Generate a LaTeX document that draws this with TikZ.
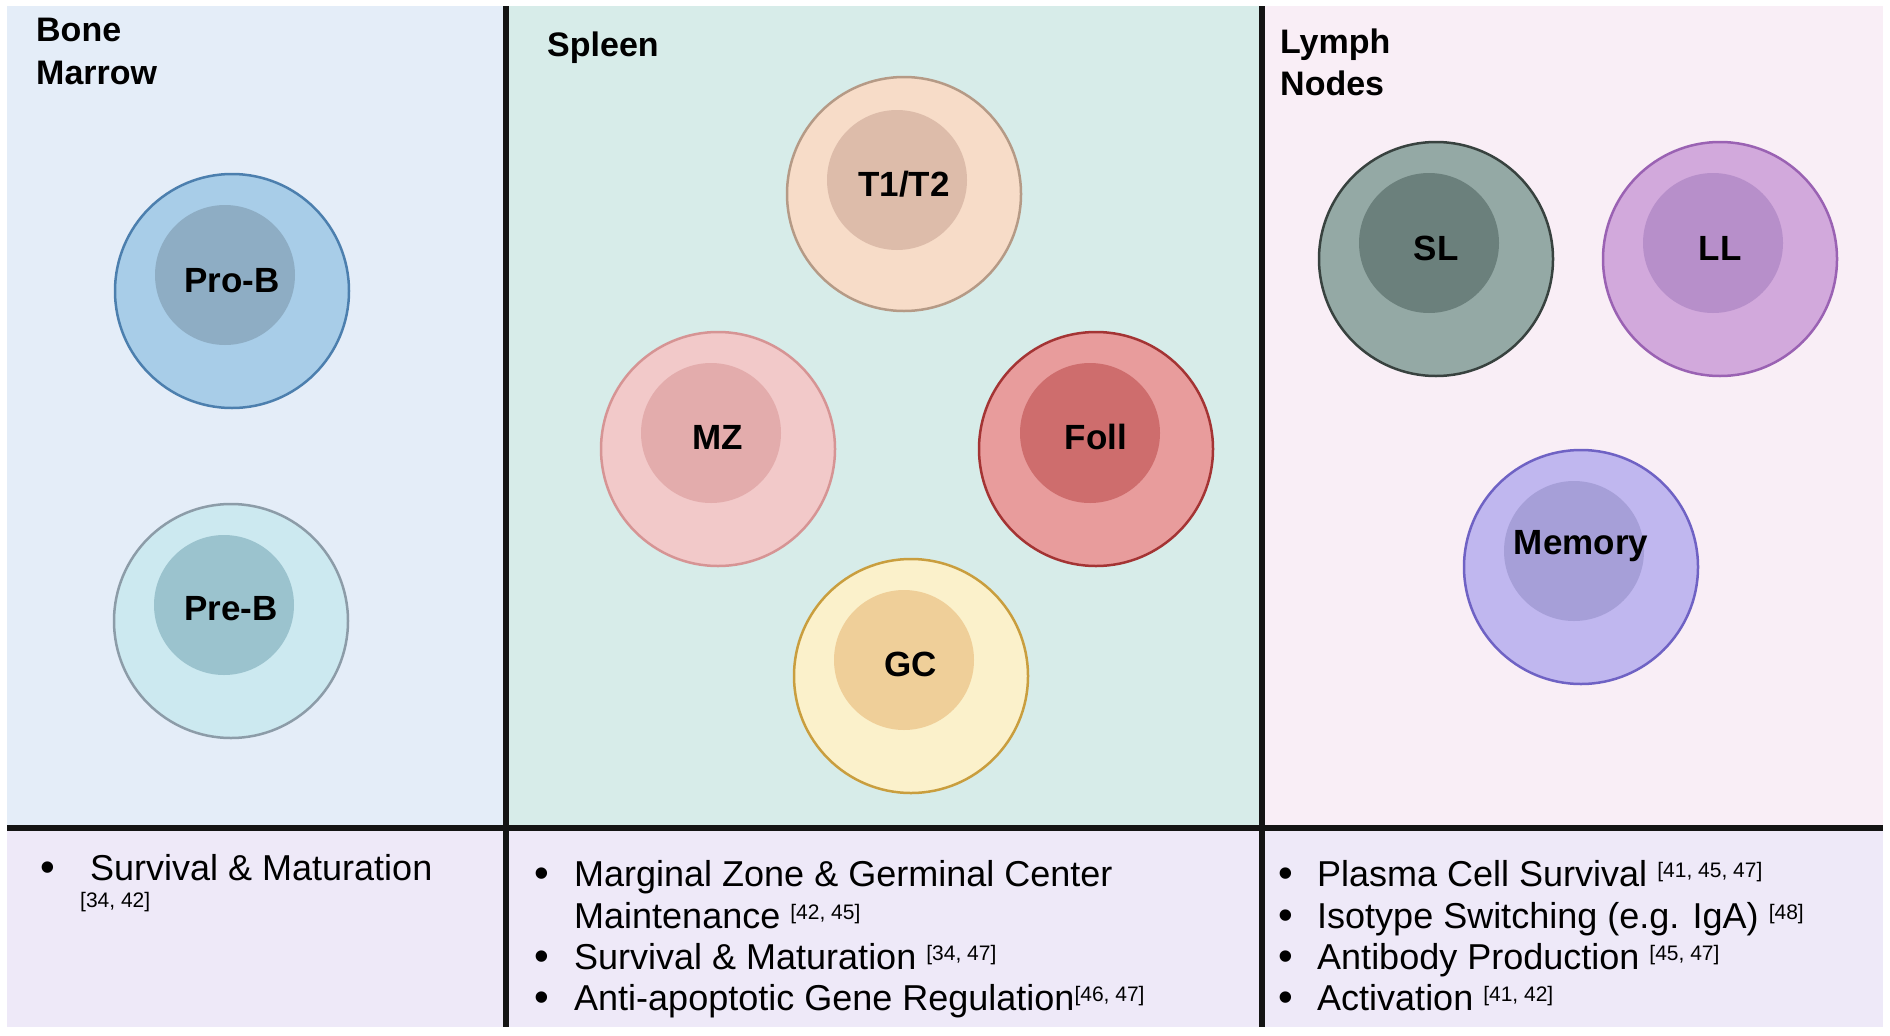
\documentclass[tikz,border=0pt]{standalone}
\usepackage{fontspec}
\setmainfont{Liberation Sans}
\definecolor{bgBM}{HTML}{E4EDF8}
\definecolor{bgSp}{HTML}{D7ECE9}
\definecolor{bgLN}{HTML}{F9EEF6}
\definecolor{bgBot}{HTML}{EEE9F8}
\definecolor{proO}{HTML}{A8CDE8}\definecolor{proD}{HTML}{4C7FAE}\definecolor{proI}{HTML}{8EADC4}
\definecolor{preO}{HTML}{CCE9F0}\definecolor{preD}{HTML}{8C9CA8}\definecolor{preI}{HTML}{9BC3CE}
\definecolor{ttO}{HTML}{F7DCC8}\definecolor{ttD}{HTML}{B59A86}\definecolor{ttI}{HTML}{DDBCAA}
\definecolor{mzO}{HTML}{F2C9C9}\definecolor{mzD}{HTML}{D69494}\definecolor{mzI}{HTML}{E3ACAC}
\definecolor{fdO}{HTML}{E89C9C}\definecolor{fdD}{HTML}{A43434}\definecolor{fdI}{HTML}{CE6D6D}
\definecolor{gcO}{HTML}{FBF1CB}\definecolor{gcD}{HTML}{C99E3E}\definecolor{gcI}{HTML}{EFCF99}
\definecolor{slO}{HTML}{94A9A5}\definecolor{slD}{HTML}{38423F}\definecolor{slI}{HTML}{6B807C}
\definecolor{llO}{HTML}{D2A9DC}\definecolor{llD}{HTML}{9A62B3}\definecolor{llI}{HTML}{B78FCA}
\definecolor{meO}{HTML}{C0B7EF}\definecolor{meD}{HTML}{6F62C4}\definecolor{meI}{HTML}{A69FD8}
\newcommand{\refcit}[1]{\raisebox{9pt}{\fontsize{21}{23}\selectfont[#1]}}
\begin{document}
\begin{tikzpicture}[x=1pt,y=-1pt,
  divider/.style={line width=6pt, draw=black!92},
  outercell/.style 2 args={circle, draw=#1, fill=#2, line width=2.5pt, minimum size=234pt, inner sep=0pt},
  innercell/.style={circle, fill=#1, draw=none, minimum size=140pt, inner sep=0pt},
  celllabel/.style={anchor=base, inner sep=0pt, font=\fontsize{35}{40}\selectfont\bfseries},
  titletext/.style={anchor=base west, inner sep=0pt, font=\fontsize{34}{40}\selectfont\bfseries},
  itemtext/.style={anchor=base west, inner sep=0pt, font=\fontsize{36}{42}\selectfont},
  bulletmark/.style={anchor=base, inner sep=0pt, font=\fontsize{42}{42}\selectfont}]
\useasboundingbox (0,0) rectangle (1890,1036);
\fill[white] (0,0) rectangle (1890,1036);
% panels
\fill[bgBM] (7,6) rectangle (505,827);
\fill[bgSp] (505,6) rectangle (1261,827);
\fill[bgLN] (1261,6) rectangle (1883,827);
\fill[bgBot] (7,827) rectangle (1883,1027);
% dividers
\coordinate (v1t) at (506,6); \coordinate (v1b) at (506,1027);
\coordinate (v2t) at (1262,6); \coordinate (v2b) at (1262,1027);
\coordinate (hl) at (7,828); \coordinate (hr) at (1883,828);
\draw[divider] (v1t) -- (v1b);
\draw[divider] (v2t) -- (v2b);
\draw[divider] (hl) -- (hr);
% titles
\node[titletext] (bm1) at (36,41) {Bone};
\node[titletext] (bm2) at (36,84) {Marrow};
\node[titletext] (sp) at (547,56) {Spleen};
\node[titletext] (ln1) at (1280,53) {Lymph};
\node[titletext] (ln2) at (1280,95) {Nodes};
% Bone marrow cells
\node[outercell={proD}{proO}] (proB) at (232,291) {};
\node[innercell=proI] (proBi) at (225,275) {};
\node[celllabel] (proBl) at (232,292) {Pro-B};
\node[outercell={preD}{preO}] (preB) at (231,621) {};
\node[innercell=preI] (preBi) at (224,605) {};
\node[celllabel] (preBl) at (231,620) {Pre-B};
% Spleen cells
\node[outercell={ttD}{ttO}] (tt) at (904,194) {};
\node[innercell=ttI] (tti) at (897,180) {};
\node[celllabel] (ttl) at (904,196) {T1/T2};
\node[outercell={mzD}{mzO}] (mz) at (718,449) {};
\node[innercell=mzI] (mzi) at (711,433) {};
\node[celllabel] (mzl) at (718,449) {MZ};
\node[outercell={fdD}{fdO}] (fd) at (1096,449) {};
\node[innercell=fdI] (fdi) at (1090,433) {};
\node[celllabel] (fdl) at (1096,449) {Foll};
\node[outercell={gcD}{gcO}] (gc) at (911,676) {};
\node[innercell=gcI] (gci) at (904,660) {};
\node[celllabel] (gcl) at (911,676) {GC};
% Lymph node cells
\node[outercell={slD}{slO}] (sl) at (1436,259) {};
\node[innercell=slI] (sli) at (1429,243) {};
\node[celllabel] (sll) at (1436,260) {SL};
\node[outercell={llD}{llO}] (ll) at (1720,259) {};
\node[innercell=llI] (lli) at (1713,243) {};
\node[celllabel] (lll) at (1720,260) {LL};
\node[outercell={meD}{meO}] (me) at (1581,567) {};
\node[innercell=meI] (mei) at (1574,551) {};
\node[celllabel] (mel) at (1581,554) {Memory};
% bottom: bone marrow
\node[bulletmark] (b1) at (48,881) {•};
\node[itemtext] (t1) at (90,880) {Survival \& Maturation};
\node[anchor=base west, inner sep=0pt, font=\fontsize{21}{23}\selectfont] (t1c) at (80,907) {[34, 42]};
% bottom: spleen
\node[bulletmark] (b2) at (542,887) {•};
\node[itemtext] (t2) at (574,886) {Marginal Zone \& Germinal Center};
\node[itemtext] (t2b) at (574,928) {Maintenance \refcit{42, 45}};
\node[bulletmark] (b3) at (542,970) {•};
\node[itemtext] (t3) at (574,969) {Survival \& Maturation \refcit{34, 47}};
\node[bulletmark] (b4) at (542,1011) {•};
\node[itemtext] (t4) at (574,1010) {Anti-apoptotic Gene Regulation\refcit{46, 47}};
% bottom: lymph nodes
\node[bulletmark] (b5) at (1286,887) {•};
\node[itemtext] (t5) at (1317,886) {Plasma Cell Survival \refcit{41, 45, 47}};
\node[bulletmark] (b6) at (1286,929) {•};
\node[itemtext] (t6) at (1317,928) {Isotype Switching (e.g. IgA) \refcit{48}};
\node[bulletmark] (b7) at (1286,970) {•};
\node[itemtext] (t7) at (1317,969) {Antibody Production \refcit{45, 47}};
\node[bulletmark] (b8) at (1286,1011) {•};
\node[itemtext] (t8) at (1317,1010) {Activation \refcit{41, 42}};
\end{tikzpicture}
\end{document}
